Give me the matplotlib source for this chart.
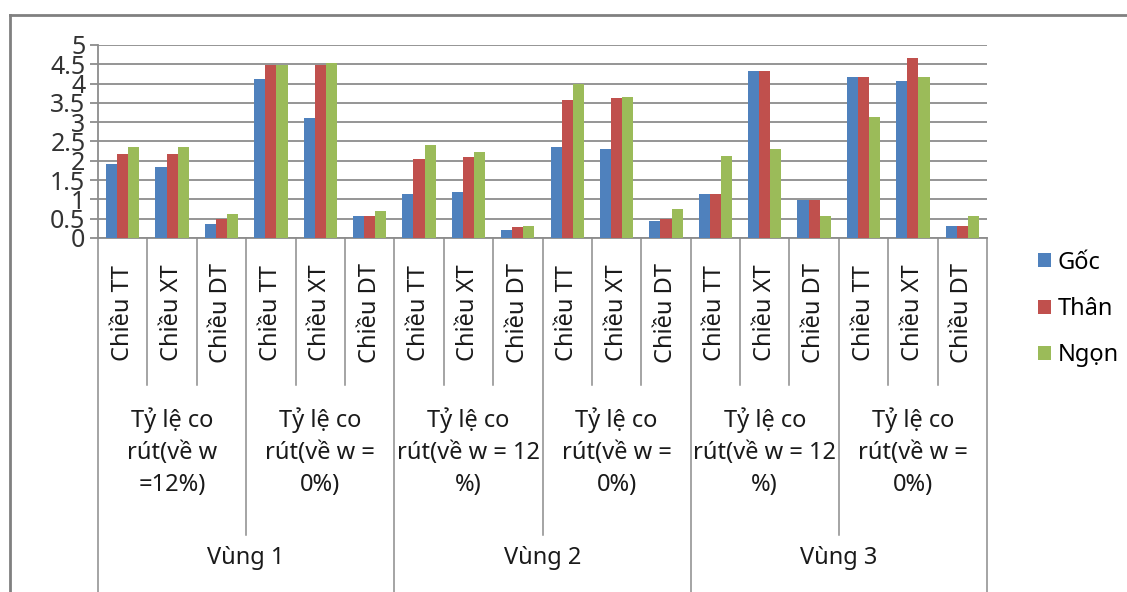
import numpy as np
import matplotlib
matplotlib.use("Agg")
import matplotlib.pyplot as plt
from matplotlib import transforms
from matplotlib.lines import Line2D

plt.rcParams['font.family'] = ['Noto Sans', 'DejaVu Sans']

# category levels of the x axis
vung = ['Vùng 1', 'Vùng 2', 'Vùng 3']
ty_le = ['Tỷ lệ co\nrút(về w\n=12%)', 'Tỷ lệ co\nrút(về w =\n0%)',
         'Tỷ lệ co\nrút(về w = 12\n%)', 'Tỷ lệ co\nrút(về w =\n0%)',
         'Tỷ lệ co\nrút(về w = 12\n%)', 'Tỷ lệ co\nrút(về w =\n0%)']
chieu = ['Chiều TT', 'Chiều XT', 'Chiều DT'] * 6

# shrinkage values per position along the stem
goc = [1.91, 1.84, 0.37, 4.13, 3.10, 0.56,
       1.13, 1.20, 0.20, 2.37, 2.30, 0.43,
       1.13, 4.33, 0.98, 4.17, 4.06, 0.32]
than = [2.17, 2.17, 0.49, 4.48, 4.48, 0.56,
        2.04, 2.11, 0.29, 3.57, 3.63, 0.49,
        1.13, 4.33, 0.98, 4.17, 4.67, 0.32]
ngon = [2.37, 2.37, 0.61, 4.48, 4.54, 0.70,
        2.40, 2.23, 0.32, 4.00, 3.66, 0.76,
        2.13, 2.30, 0.56, 3.13, 4.17, 0.56]
series_names = ['Gốc', 'Thân', 'Ngọn']
colors = ['#4F81BD', '#C0504D', '#9BBB59']
y_ticks = [0, 0.5, 1, 1.5, 2, 2.5, 3, 3.5, 4, 4.5, 5]
y_labels = ['0', '0.5', '1', '1.5', '2', '2.5', '3', '3.5', '4', '4.5', '5']

W, H = 1127, 592
fig = plt.figure(figsize=(W / 100, H / 100), dpi=100)
ax = fig.add_axes([98 / W, 1 - 238 / H, (987 - 98) / W, (238 - 45) / H])

grid_c = '#8c8c8c'
x = np.arange(len(chieu)) + 0.5
bw = 0.225
handles = []
for k, vals in enumerate([goc, than, ngon]):
    b = ax.bar(x + (k - 1) * bw, vals, bw, color=colors[k], zorder=3,
               label=series_names[k])
    handles.append(b)

ax.set_xlim(0, len(chieu))
ax.set_ylim(0, 5)
ax.set_yticks(y_ticks)
ax.set_yticklabels(y_labels, fontsize=18, color='#333333')
ax.yaxis.grid(True, color=grid_c, lw=1.3, zorder=0)
ax.tick_params(axis='y', length=6, width=1.3, color=grid_c, pad=3)
ax.set_xticks([])
for s in ['top', 'right']:
    ax.spines[s].set_visible(False)
for s in ['left', 'bottom']:
    ax.spines[s].set_color(grid_c)
    ax.spines[s].set_linewidth(1.3)

# multi-level category axis below the plot
tr = transforms.blended_transform_factory(ax.transData, fig.transFigure)


def fy(px):
    return 1 - px / H


for i in range(len(chieu) + 1):
    if i % 6 == 0:
        end = 600
    elif i % 3 == 0:
        end = 535
    else:
        end = 385
    fig.add_artist(Line2D([i, i], [fy(238), fy(end)], transform=tr,
                          color=grid_c, lw=1.1))

for i, lab in enumerate(chieu):
    fig.text(i + 0.5, fy(313), lab, transform=tr, rotation=90,
             ha='center', va='center', fontsize=17, color='#1a1a1a')
for j, lab in enumerate(ty_le):
    fig.text(j * 3 + 1.5, fy(452), lab, transform=tr, ha='center',
             va='center', fontsize=17, linespacing=1.45, color='#1a1a1a')
for j, lab in enumerate(vung):
    fig.text(j * 6 + 3, fy(558), lab, transform=tr, ha='center',
             va='center', fontsize=17, color='#1a1a1a')

# chart area frame
fig.add_artist(Line2D([10 / W, 10 / W], [fy(15), -0.05],
                      transform=fig.transFigure, color='#808080', lw=2))
fig.add_artist(Line2D([10 / W, 1.05], [fy(15), fy(15)],
                      transform=fig.transFigure, color='#808080', lw=2))

fig.legend(handles=handles, labels=series_names, loc='center left',
           bbox_to_anchor=(1026 / W, fy(309)), frameon=False, fontsize=17,
           handlelength=0.55, handleheight=0.55, handletextpad=0.3,
           labelspacing=0.95, borderpad=0)

fig.savefig('out.png', dpi=100)
